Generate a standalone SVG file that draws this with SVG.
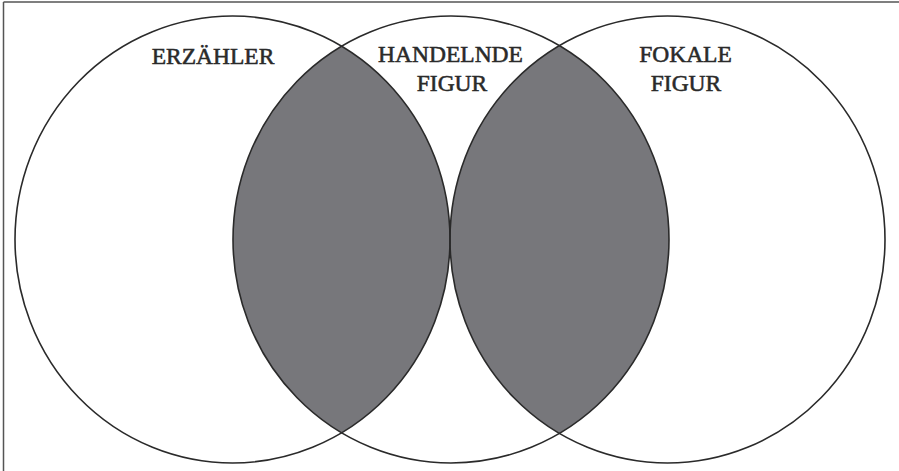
<svg xmlns="http://www.w3.org/2000/svg" width="899" height="471" viewBox="0 0 899 471">
<style>
.c{fill:none;stroke:#2a2a2a;stroke-width:1.6}
.t{font-family:"Liberation Serif","Times New Roman",serif;font-size:23.5px;fill:#2a2a2a;stroke:#2a2a2a;stroke-width:0.55;text-anchor:middle}
</style>
<defs>
<clipPath id="cl"><ellipse cx="232.5" cy="239.5" rx="217.5" ry="223.5"/></clipPath>
<clipPath id="cr"><ellipse cx="667.5" cy="239.5" rx="217.5" ry="223.5"/></clipPath>
</defs>
<rect width="899" height="471" fill="#fff"/>
<g id="frame" stroke="#555" stroke-width="1.5">
<line x1="3.5" y1="2" x2="899" y2="2"/>
<line x1="3.5" y1="2" x2="3.5" y2="471"/>
</g>
<g id="overlaps" fill="#77777b">
<ellipse cx="451" cy="239.5" rx="218" ry="223.5" clip-path="url(#cl)"/>
<ellipse cx="451" cy="239.5" rx="218" ry="223.5" clip-path="url(#cr)"/>
</g>
<g id="erzaehler">
<ellipse class="c" cx="232.5" cy="239.5" rx="217.5" ry="223.5"/>
<text class="t" x="213" y="64">ERZÄHLER</text>
</g>
<g id="handelnde-figur">
<ellipse class="c" cx="451" cy="239.5" rx="218" ry="223.5"/>
<text class="t" x="450.5" y="62">HANDELNDE</text>
<text class="t" x="452" y="91">FIGUR</text>
</g>
<g id="fokale-figur">
<ellipse class="c" cx="667.5" cy="239.5" rx="217.5" ry="223.5"/>
<text class="t" x="685.5" y="62">FOKALE</text>
<text class="t" x="686" y="91">FIGUR</text>
</g>
<g id="connectors"/>
</svg>
